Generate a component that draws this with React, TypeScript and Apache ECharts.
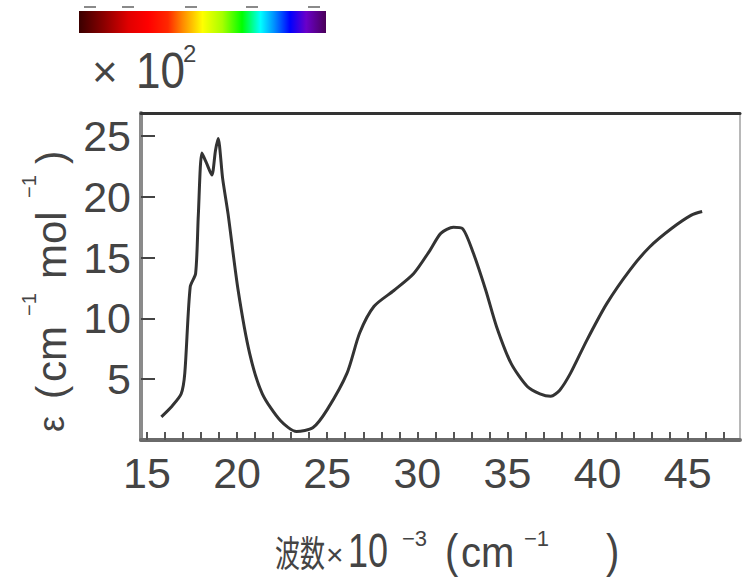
import React, { useEffect, useRef } from "react";
import * as echarts from "echarts";

const wavenumber = [15.8, 16.4, 16.9, 17.1, 17.4, 17.7, 17.85, 18.05, 18.3, 18.6, 18.8, 18.95, 19.2, 19.5, 20.05, 20.7, 21.4, 22.4, 23.3, 24.2, 25.0, 26.1, 26.8, 27.6, 28.7, 29.8, 30.7, 31.3, 32.0, 32.5, 33.1, 33.8, 34.4, 35.2, 36.1, 36.8, 37.4, 37.9, 38.5, 39.4, 40.5, 41.8, 42.9, 44.1, 45.2, 45.8];
const epsilon = [1.9, 2.8, 3.8, 5.5, 12.6, 13.7, 18.5, 23.6, 22.8, 21.8, 23.8, 24.8, 21.5, 18.6, 12.4, 7.1, 3.8, 1.6, 0.7, 1.0, 2.5, 5.5, 8.8, 11.0, 12.3, 13.7, 15.6, 17.0, 17.5, 17.4, 15.4, 12.3, 9.3, 6.3, 4.4, 3.8, 3.6, 4.1, 5.5, 8.2, 11.2, 14.0, 15.9, 17.4, 18.5, 18.8];

const xTickLabels = [15, 20, 25, 30, 35, 40, 45];
const xMinorTicks = [15, 16, 17, 18, 19, 20, 21, 22, 23, 24, 25, 26, 27, 28, 29, 30, 31, 32, 33, 34, 35, 36, 37, 38, 39, 40, 41, 42, 43, 44, 45, 46, 47];
const yTickLabels = [5, 10, 15, 20, 25];
const spectrumStops = [
  [0, "#3a0000"], [0.1, "#8a0000"], [0.2, "#e00000"], [0.28, "#ff0000"], [0.36, "#ff2800"],
  [0.42, "#ff8a00"], [0.5, "#ffff00"], [0.58, "#a8ff00"], [0.66, "#00ff00"], [0.735, "#00ffff"],
  [0.79, "#0090ff"], [0.855, "#0000ff"], [0.92, "#6a00c8"], [1, "#4a0058"],
];
const spectrumMarks = [90, 128, 191, 252, 314];

const FONT = "Liberation Sans, DejaVu Sans, sans-serif";
const CJK = "Noto Sans CJK JP, Noto Sans CJK SC, sans-serif";
const TXT = "#444444";

function txt(text: string, x: number, y: number, fontSize: number, extra: any = {}) {
  const { scaleY, scaleX, fontFamily, ...rest } = extra;
  return {
    type: "text",
    x,
    y,
    scaleY: scaleY ?? 1,
    scaleX: scaleX ?? 1,
    style: {
      text,
      fontSize,
      fontFamily: fontFamily ?? FONT,
      fill: TXT,
      align: "left",
      verticalAlign: "middle",
      ...rest,
    },
  };
}

export default function App() {
  const ref = useRef<HTMLDivElement>(null);
  useEffect(() => {
    if (!ref.current) return;
    const chart = echarts.init(ref.current, null, { renderer: "svg" });
    const data = wavenumber.map((w, i) => [w, epsilon[i]]);
    const xMin = 14.67;
    const xMax = 47.9;
    const yMax = 26.9;
    chart.setOption({
      animation: false,
      backgroundColor: "#ffffff",
      grid: { left: 141, right: 4, top: 113, bottom: 139, containLabel: false },
      xAxis: [
        {
          type: "value",
          min: xMin,
          max: xMax,
          position: "bottom",
          axisLine: { onZero: false, lineStyle: { color: "#6a6a6a", width: 4 } },
          axisTick: { inside: true, length: 8, customValues: xMinorTicks, lineStyle: { color: "#555", width: 2 } },
          axisLabel: { customValues: xTickLabels, margin: 11, fontSize: 43, fontFamily: FONT, color: TXT },
          splitLine: { show: false },
        },
        {
          type: "value",
          min: xMin,
          max: xMax,
          position: "top",
          axisLine: { onZero: false, lineStyle: { color: "#333", width: 3 } },
          axisTick: { show: false },
          axisLabel: { show: false },
          splitLine: { show: false },
        },
      ],
      yAxis: [
        {
          type: "value",
          min: 0,
          max: yMax,
          position: "left",
          axisLine: { onZero: false, lineStyle: { color: "#8a8a8a", width: 4 } },
          axisTick: { inside: true, length: 14, customValues: yTickLabels, lineStyle: { color: "#444", width: 2 } },
          axisLabel: { customValues: yTickLabels, margin: 10, fontSize: 43, fontFamily: FONT, color: TXT },
          splitLine: { show: false },
        },
        {
          type: "value",
          min: 0,
          max: yMax,
          position: "right",
          axisLine: { onZero: false, lineStyle: { color: "#b8b8b8", width: 2 } },
          axisTick: { show: false },
          axisLabel: { show: false },
          splitLine: { show: false },
        },
      ],
      series: [
        {
          type: "line",
          data,
          xAxisIndex: 0,
          yAxisIndex: 0,
          smooth: 0.25,
          symbol: "none",
          lineStyle: { color: "#333", width: 3 },
        },
      ],
      graphic: [
        {
          type: "rect",
          shape: { x: 79, y: 11, width: 247, height: 22 },
          style: {
            fill: new echarts.graphic.LinearGradient(0, 0, 1, 0, spectrumStops.map(([offset, color]) => ({ offset, color }))),
          },
        },
        ...spectrumMarks.map((cx) => ({
          type: "line",
          shape: { x1: cx - 6, y1: 7, x2: cx + 6, y2: 7 },
          style: { stroke: "#8a8a8a", lineWidth: 2 },
        })),
        txt("×", 92, 71, 44),
        txt("10", 136, 71, 44, { scaleY: 1.12 }),
        txt("2", 183, 53, 24),
        {
          type: "group",
          x: 51,
          y: 440,
          rotation: Math.PI / 2,
          children: [
            txt("ε", 8, 0, 36),
            txt("(", 41, 0, 40),
            txt("cm", 58, 0, 42),
            txt("−1", 124, -22, 20),
            txt("mol", 161, 0, 42),
            txt("−1", 242, -22, 20),
            txt(")", 276, 0, 40),
          ],
        },
        txt("波数", 275, 551, 25, { fontFamily: CJK, scaleY: 1.45 }),
        txt("×", 326, 554, 30),
        txt("10", 348, 551, 36, { scaleY: 1.33 }),
        txt("−3", 402, 538, 22),
        txt("(", 445, 551, 40, { scaleY: 1.15 }),
        txt("cm", 461, 553, 40, { scaleY: 1.05 }),
        txt("−1", 524, 538, 22),
        txt(")", 606, 551, 40, { scaleY: 1.15 }),
      ],
    });
    return () => chart.dispose();
  }, []);
  return <div ref={ref} style={{ width: 744, height: 579, position: "absolute", left: 0, top: 0 }} />;
}
